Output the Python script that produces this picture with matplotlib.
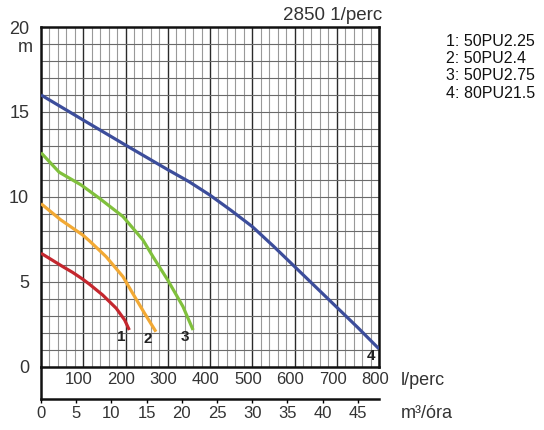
# Pump curves, 2850 1/perc
import matplotlib
matplotlib.use('Agg')
import matplotlib.pyplot as plt
from matplotlib.ticker import MultipleLocator
from matplotlib.transforms import ScaledTranslation

plt.rcParams['font.family'] = ['Liberation Sans', 'DejaVu Sans']

# flow in l/perc, head in m
q1 = [0, 25, 51, 75, 99, 115, 146, 178, 198, 209]
h1 = [6.68, 6.3, 5.9, 5.55, 5.15, 4.85, 4.22, 3.44, 2.75, 2.16]

q2 = [0, 47, 99, 115, 154, 194, 217, 245, 272]
h2 = [9.6, 8.64, 7.75, 7.4, 6.48, 5.3, 4.32, 3.15, 2.06]

q3 = [0, 43, 95, 138, 194, 241, 265, 300, 336, 360]
h3 = [12.6, 11.45, 10.7, 9.92, 8.84, 7.47, 6.48, 5.1, 3.54, 2.16]

q4 = [0, 100, 200, 300, 350, 400, 450, 500, 550, 600, 650, 700, 750, 800]
h4 = [16.0, 14.52, 13.05, 11.6, 10.9, 10.1, 9.2, 8.25, 7.1, 5.9, 4.7, 3.5, 2.3, 1.05]

curve_ids = ['1', '2', '3', '4']
curve_colors = ['#c4272e', '#f2a934', '#80c03c', '#3c4d9b']
legend_lines = ['1: 50PU2.25', '2: 50PU2.4', '3: 50PU2.75', '4: 80PU21.5']

lpm_ticks = [100, 200, 300, 400, 500, 600, 700, 800]
m3h_ticks = [0, 5, 10, 15, 20, 25, 30, 35, 40, 45]
head_ticks = [0, 5, 10, 15, 20]

txt = '#333333'

fig = plt.figure(figsize=(5.44, 4.30), dpi=100)
W, H = 544, 430
x0, x1, y0, y1 = 41.0, 379.0, 366.7, 27.0
ax = fig.add_axes([x0 / W, 1 - y0 / H, (x1 - x0) / W, (y0 - y1) / H])

ax.set_xlim(0, 800)
ax.set_ylim(0, 20)

# grid
ax.xaxis.set_minor_locator(MultipleLocator(20))
ax.yaxis.set_minor_locator(MultipleLocator(1))
ax.set_xticks(lpm_ticks)
ax.set_xticklabels([str(v) for v in lpm_ticks])
ax.set_yticks(head_ticks)
ax.grid(which='minor', axis='x', color='#999999', lw=0.8)
ax.grid(which='major', axis='x', color='#2a2a2a', lw=1.0)
ax.grid(which='both', axis='y', color='#6a6a6a', lw=0.8)
ax.set_axisbelow(True)
ax.tick_params(which='both', length=0)
ax.tick_params(axis='x', pad=4, labelsize=12, labelcolor=txt)
ax.tick_params(axis='y', pad=8.5, labelsize=13, labelcolor=txt)
for lab in ax.get_xticklabels():
    lab.set_transform(lab.get_transform() + ScaledTranslation(-3 / 72, 0, fig.dpi_scale_trans))
for sp in ax.spines.values():
    sp.set_linewidth(1.8)
    sp.set_color('#111111')

# curves
for q, h, cid, col in zip([q1, q2, q3, q4], [h1, h2, h3, h4], curve_ids, curve_colors):
    ax.plot(q, h, color=col, lw=2.3, solid_capstyle='butt', zorder=3)
    ax.annotate(cid, xy=(q[-1], h[-1]), xytext=(-6, -5), textcoords='offset points',
                ha='center', va='center', fontsize=11, fontweight='bold', color='#222222')

ax.annotate('m', xy=(0, 18.78), xycoords=('axes fraction', 'data'), xytext=(-6, 0),
            textcoords='offset points', ha='right', va='center', fontsize=13, color=txt)
ax.annotate('2850 1/perc', xy=(1, 1), xycoords='axes fraction', xytext=(2, 8),
            textcoords='offset points', ha='right', va='center', fontsize=13.5, color=txt)
ax.annotate('l/perc', xy=(1, 0), xycoords='axes fraction', xytext=(16, -10),
            textcoords='offset points', ha='left', va='center', fontsize=13, color=txt)

# second scale box, m3/h
yb = 399.3
ax2 = fig.add_axes([x0 / W, 1 - yb / H, (x1 - x0) / W, (yb - y0) / H])
ax2.patch.set_alpha(0)
ax2.set_xlim(0, 48)
ax2.set_ylim(0, 1)
ax2.set_xticks(m3h_ticks)
ax2.set_yticks([])
ax2.spines['top'].set_visible(False)
ax2.spines['right'].set_visible(False)
ax2.spines['left'].set_linewidth(1.8)
ax2.spines['bottom'].set_linewidth(1.8)
ax2.spines['left'].set_color('#111111')
ax2.spines['bottom'].set_color('#111111')
ax2.tick_params(axis='x', length=3, width=1, pad=2, labelsize=12, labelcolor=txt)
ax2.annotate('m³/óra', xy=(1, 0), xycoords='axes fraction', xytext=(16, -10),
             textcoords='offset points', ha='left', va='center', fontsize=13, color=txt)

# legend block
for i, line in enumerate(legend_lines):
    fig.text(446 / W, 1 - (41 + 17.5 * i) / H, line, fontsize=11.5, va='center', ha='left', color='#111111')

fig.savefig('out.png', dpi=100, facecolor='white')
